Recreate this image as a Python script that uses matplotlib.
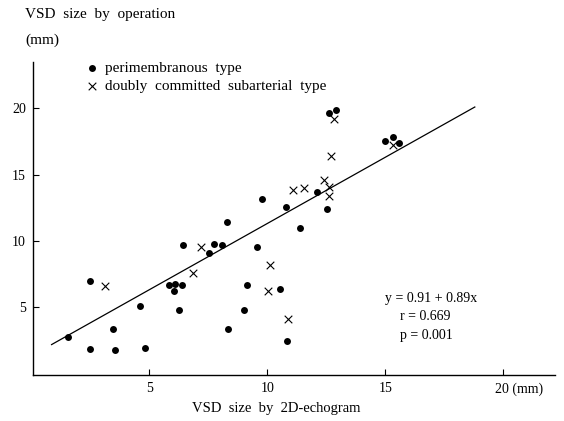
import matplotlib
matplotlib.use("Agg")
import matplotlib.pyplot as plt
import matplotlib.transforms as mtransforms

# perimembranous type (dots)
peri_x = [2.49, 1.54, 2.46, 3.44, 3.56, 4.58, 4.83, 5.85, 6.07, 6.06, 6.37,
          6.27, 7.51, 8.32, 9.03, 9.12, 10.53, 10.85, 9.76, 10.79, 8.31, 6.44,
          7.75, 8.08, 9.55, 12.63, 12.91, 14.99, 15.34, 15.59, 12.11, 12.54, 11.40]
peri_y = [7.02, 2.74, 1.84, 3.40, 1.82, 5.13, 1.97, 6.68, 6.79, 6.23, 6.66,
          4.83, 9.13, 3.37, 4.83, 6.66, 6.36, 2.46, 13.19, 12.58, 11.43, 9.68,
          9.75, 9.68, 9.55, 19.68, 19.90, 17.54, 17.84, 17.39, 13.69, 12.44, 11.01]

# doubly committed subarterial type (crosses)
dcsa_x = [3.12, 6.83, 7.19, 10.10, 10.04, 10.89, 12.81, 12.72, 15.31, 11.07,
          11.57, 12.39, 12.63, 12.63]
dcsa_y = [6.59, 7.57, 9.55, 8.17, 6.27, 4.15, 19.22, 16.38, 17.21, 13.82,
          13.99, 14.63, 14.07, 13.37]

# regression line as drawn in the figure
line_x = [0.85, 18.8]
line_y = [2.2, 20.1]

x_ticks = [5, 10, 15, 20]
x_ticklabels = ["5", "10", "15", "20 (mm)"]
y_ticks = [5, 10, 15, 20]

plt.rcParams["font.family"] = ["Liberation Serif", "DejaVu Serif"]

fig = plt.figure(figsize=(5.64, 4.21), dpi=100)
ax = fig.add_axes([0.058, 0.109, 0.926, 0.744])

ax.plot(line_x, line_y, color="black", lw=0.9)
ax.scatter(peri_x, peri_y, s=25, color="black", marker="o", linewidths=0,
           label="perimembranous  type", zorder=3)
ax.scatter(dcsa_x, dcsa_y, s=30, color="black", marker="x", linewidths=0.8,
           label="doubly  committed  subarterial  type", zorder=3)

ax.set_xlim(0.05, 22.2)
ax.set_ylim(-0.1, 23.5)
ax.set_xticks(x_ticks)
ax.set_xticklabels(x_ticklabels)
ax.set_yticks(y_ticks)
ax.tick_params(direction="in", length=4, width=0.8, labelsize=10, pad=5)
for s in ("top", "right"):
    ax.spines[s].set_visible(False)
for s in ("left", "bottom"):
    ax.spines[s].set_linewidth(1.0)

# keep "20" centred on its tick, with "(mm)" trailing to the right
last = ax.get_xticklabels()[-1]
last.set_horizontalalignment("left")
last.set_transform(last.get_transform() +
                   mtransforms.ScaledTranslation(-6 / 72, 0, fig.dpi_scale_trans))

fig.text(0.045, 0.965, "VSD  size  by  operation", fontsize=11, ha="left", va="center")
fig.text(0.045, 0.905, "(mm)", fontsize=11, ha="left", va="center")
fig.text(0.49, 0.03, "VSD  size  by  2D-echogram", fontsize=10.5, ha="center", va="center")

ax.legend(loc="upper left", bbox_to_anchor=(0.075, 1.04), frameon=False,
          fontsize=11, handletextpad=0.4, labelspacing=0.25, borderpad=0.3,
          handlelength=1.0)

ax.text(0.675, 0.235, "y = 0.91 + 0.89x", transform=ax.transAxes, fontsize=10)
ax.text(0.703, 0.175, "r = 0.669", transform=ax.transAxes, fontsize=10)
ax.text(0.703, 0.115, "p = 0.001", transform=ax.transAxes, fontsize=10)

fig.savefig("out.png", dpi=100)
